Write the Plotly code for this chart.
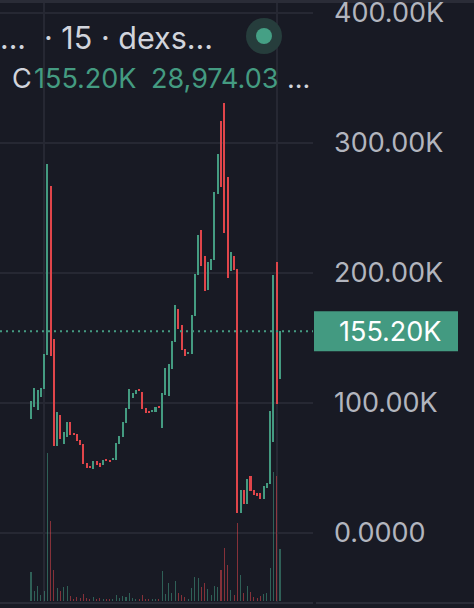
import plotly.graph_objects as go

# 15-minute candles, prices in thousands
opens = [
    87.7, 96.9, 94.6, 104.6, 110.8, 136.9, 266.9, 149.2, 66.9, 90.8,
    68.5, 73.8, 85.4, 76.9, 76.2, 71.5, 68.5, 53.8, 51.5, 49.2,
    55.4, 53.8, 52.3, 56.9, 56.2, 56.2, 56.2, 68.5, 73.8, 84.6,
    95.4, 103.8, 106.9, 110.8, 108.5, 96.2, 93.8, 93.1, 93.1, 97.7,
    80.8, 106.2, 105.4, 126.2, 146.9, 172.3, 160.0, 141.5, 137.7, 137.7,
    166.9, 198.5, 233.1, 213.1, 186.9, 202.3, 210.0, 260.8, 316.9, 330.8,
    273.8, 201.5, 213.1, 203.1, 15.4, 33.1, 22.3, 43.8, 33.1, 30.8,
    30.8, 26.2, 34.6, 37.7, 70.0, 208.5, 118.5,
]
closes = [
    101.5, 111.5, 110.0, 111.5, 137.7, 283.8, 136.2, 66.9, 93.1, 72.3,
    77.7, 85.4, 75.4, 75.4, 70.8, 67.7, 53.1, 50.0, 50.0, 55.4,
    52.3, 50.8, 56.2, 55.4, 54.6, 57.7, 69.2, 74.6, 85.4, 96.2,
    110.8, 107.7, 110.0, 109.2, 95.4, 92.3, 92.3, 94.6, 96.9, 96.2,
    107.7, 126.9, 130.0, 147.7, 175.4, 156.9, 140.8, 136.2, 139.2, 167.7,
    199.2, 229.2, 205.4, 186.2, 208.5, 210.8, 262.3, 291.5, 266.2, 230.8,
    196.2, 216.2, 202.3, 15.4, 33.1, 22.3, 41.5, 32.3, 29.2, 28.5,
    26.2, 36.2, 38.5, 93.8, 198.5, 99.2, 155.2,
]
volumes = [
    16200, 5600, 8400, 3300, 5600, 82400, 44600, 17300, 7200, 5600,
    7800, 8400, 2800, 1100, 2200, 1700, 3900, 1700, 1100, 2200,
    1100, 1700, 1100, 1100, 1100, 1100, 3300, 1700, 2800, 2200,
    4500, 1700, 1100, 1100, 3300, 1100, 1100, 1100, 1100, 1100,
    16700, 3900, 10000, 4500, 11100, 4500, 3300, 2200, 1100, 7200,
    13400, 12800, 7800, 10000, 6700, 3300, 8400, 7800, 17300, 29500,
    20100, 6100, 3300, 43400, 14500, 4500, 8400, 5000, 2200, 1700,
    2800, 3900, 4500, 18400, 71900, 69600, 28974.03,
]
price_ticks = [0, 100, 200, 300, 400]
price_labels = ["0.0000", "100.00K", "200.00K", "300.00K", "400.00K"]
time_grid = [4, 75]

BG = "#181a24"
GRID = "#262833"
UP = "#449b81"
DOWN = "#e0454a"
UP_VOL = "rgba(68,155,129,0.55)"
DOWN_VOL = "rgba(224,69,74,0.55)"
TEXT = "#d1d4dc"
FONT = "Inter"

# plot area is 313 x 599 px, starting 3 px from the top
def px(x):
    return x / 313


def py(y):
    return (602 - y) / 599


idx = list(range(len(opens)))
up = [c >= o for o, c in zip(opens, closes)]

fig = go.Figure()

fig.add_trace(
    go.Bar(
        x=idx,
        y=volumes,
        width=0.32,
        marker=dict(color=[UP_VOL if u else DOWN_VOL for u in up], line_width=0),
        yaxis="y2",
        showlegend=False,
    )
)

fig.add_trace(
    go.Bar(
        x=idx,
        base=[min(o, c) for o, c in zip(opens, closes)],
        y=[abs(c - o) for o, c in zip(opens, closes)],
        width=0.62,
        marker=dict(color=[UP if u else DOWN for u in up], line_width=0),
        showlegend=False,
    )
)

last = closes[-1]

shapes = [
    # last price line
    dict(type="line", xref="paper", yref="y", x0=0, x1=1, y0=last, y1=last,
         line=dict(color=UP, width=2, dash="2px,4px"), layer="above"),
    # last price tag
    dict(type="rect", xref="paper", yref="y", x0=px(314), x1=px(458),
         ysizemode="pixel", yanchor=last, y0=-20, y1=20,
         fillcolor="#439a81", line_width=0, layer="above"),
    # top and bottom borders
    dict(type="rect", xref="paper", yref="paper", x0=0, x1=px(474), y0=py(3), y1=py(0),
         fillcolor="#2a2c37", line_width=0, layer="below"),
    dict(type="rect", xref="paper", yref="paper", x0=0, x1=1, y0=py(604), y1=py(602),
         fillcolor="#2a2c37", line_width=0, layer="below"),
    dict(type="rect", xref="paper", yref="paper", x0=px(316), x1=px(474), y0=py(604), y1=py(602),
         fillcolor="#2a2c37", line_width=0, layer="below"),
    # status dot
    dict(type="circle", xref="paper", yref="paper", xsizemode="pixel", ysizemode="pixel",
         xanchor=px(264), yanchor=py(36), x0=-18, x1=18, y0=-18, y1=18,
         fillcolor="#263d3c", line_width=0),
    dict(type="circle", xref="paper", yref="paper", xsizemode="pixel", ysizemode="pixel",
         xanchor=px(264), yanchor=py(36), x0=-8, x1=8, y0=-8, y1=8,
         fillcolor="#45a085", line_width=0),
]

annotations = [
    dict(text="...", x=px(-2), y=py(38), font=dict(size=30, color=TEXT)),
    dict(text="· 15 · dexs...", x=px(42), y=py(38), font=dict(size=30.5, color=TEXT)),
    dict(text="C", x=px(10), y=py(78), font=dict(size=27, color=TEXT)),
    dict(text=f"{last:.2f}K", x=px(32), y=py(78), font=dict(size=27, color=UP)),
    dict(text=f"{volumes[-1]:,.2f}", x=px(149), y=py(78), font=dict(size=27, color=UP)),
    dict(text="...", x=px(285), y=py(78), font=dict(size=27, color=TEXT)),
]
for a in annotations:
    a.update(xref="paper", yref="paper", xanchor="left", yanchor="middle", showarrow=False)

annotations.append(
    dict(text=f"{last:.2f}K", xref="paper", yref="y", x=px(390), y=last,
         xanchor="center", yanchor="middle", showarrow=False,
         font=dict(size=27, color="#ffffff"))
)

fig.update_layout(
    width=474,
    height=608,
    margin=dict(l=0, r=161, t=3, b=6, pad=0, autoexpand=False),
    paper_bgcolor=BG,
    plot_bgcolor=BG,
    font=dict(family=FONT),
    barmode="overlay",
    bargap=0,
    xaxis=dict(
        range=[-9.46, 86.08],
        tickvals=time_grid,
        showticklabels=False,
        showgrid=True,
        gridcolor=GRID,
        gridwidth=2,
        zeroline=False,
        showline=False,
        fixedrange=True,
        automargin=False,
    ),
    yaxis=dict(
        range=[-53.1, 407.7],
        side="right",
        tickvals=price_ticks,
        ticktext=price_labels,
        tickfont=dict(size=27, color="#b2b5be", family=FONT),
        ticks="",
        ticklabelstandoff=20,
        ticklabeloverflow="allow",
        showgrid=True,
        gridcolor=GRID,
        gridwidth=2,
        zeroline=False,
        showline=False,
        fixedrange=True,
        automargin=False,
    ),
    yaxis2=dict(
        overlaying="y",
        range=[-560, 333600],
        showgrid=False,
        showticklabels=False,
        zeroline=False,
        fixedrange=True,
        automargin=False,
    ),
    shapes=shapes,
    annotations=annotations,
)

# drop the browser's default page margin so the figure fills the window
fig.write_html(
    "out.html",
    config={"displayModeBar": False},
    post_script="document.body.style.margin='0';document.body.style.background='%s';" % BG,
)
